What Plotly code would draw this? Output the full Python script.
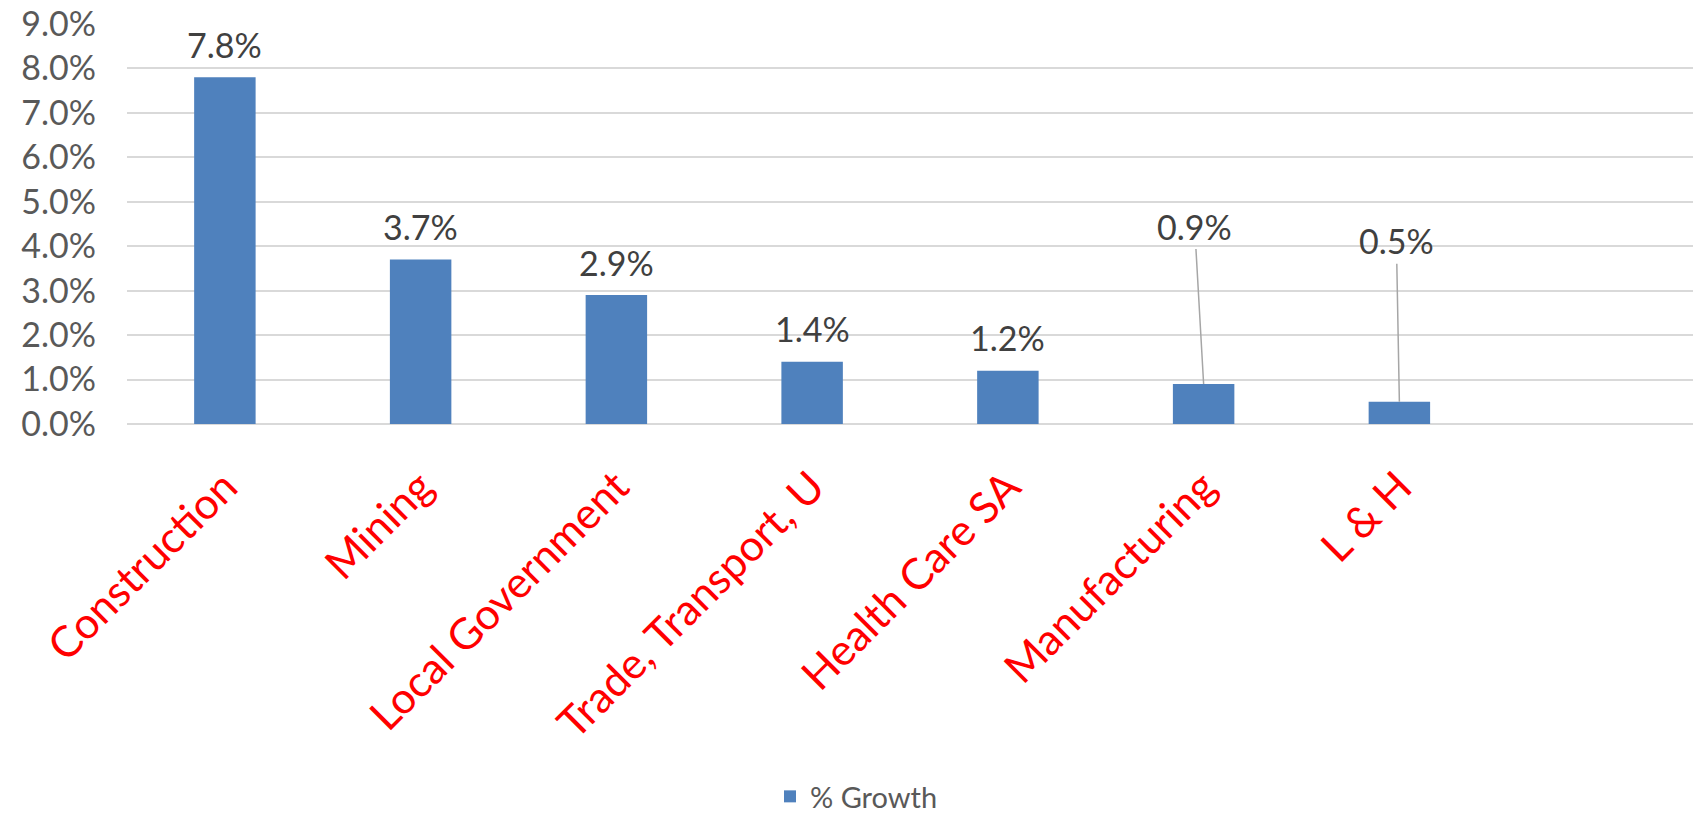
import plotly.graph_objects as go

categories = ["Construction", "Mining", "Local Government", "Trade, Transport, U",
              "Health Care SA", "Manufacturing", "L & H"]
growth = [7.8, 3.7, 2.9, 1.4, 1.2, 0.9, 0.5]
series_name = "% Growth"
y_ticks = [0, 1, 2, 3, 4, 5, 6, 7, 8, 9]
y_tick_labels = [f"{t:.1f}%" for t in y_ticks]

FONT = "Lato"
BAR_COLOR = "#4F81BD"

fig = go.Figure()
fig.add_trace(go.Bar(
    x=categories, y=growth, name=series_name,
    marker=dict(color=BAR_COLOR, line=dict(width=0)),
    showlegend=True,
))

# data labels; the two small bars use leader lines (pixel offsets)
leader_offsets = {"Manufacturing": (-9, -158), "L & H": (-3, -161)}
annotations = []
for cat, v in zip(categories, growth):
    txt = f"{v:.1f}%"
    if cat in leader_offsets:
        ax, ay = leader_offsets[cat]
        annotations.append(dict(
            x=cat, y=v, xref="x", yref="y", text=txt, showarrow=True,
            ax=ax, ay=ay, arrowhead=0, arrowwidth=1.5, arrowcolor="#A6A6A6",
            standoff=0, borderpad=2,
            font=dict(family=FONT, size=34, color="#404040"),
        ))
    else:
        annotations.append(dict(
            x=cat, y=v, xref="x", yref="y", text=txt, showarrow=False,
            yanchor="middle", yshift=33,
            font=dict(family=FONT, size=34, color="#404040"),
        ))

fig.update_layout(
    width=1696, height=822,
    margin=dict(l=127, r=3, t=24, b=398, autoexpand=False),
    paper_bgcolor="white", plot_bgcolor="white",
    bargap=0.686,
    annotations=annotations,
    font=dict(family=FONT),
    legend=dict(
        orientation="h", xref="container", x=0.505, xanchor="center",
        yref="container", y=0.0, yanchor="bottom",
        font=dict(family=FONT, size=29, color="#595959"),
        bgcolor="rgba(0,0,0,0)",
    ),
    xaxis=dict(
        type="category", categoryorder="array", categoryarray=categories,
        range=[-0.5, 7.5],
        tickangle=-45,
        tickfont=dict(family=FONT, size=43, color="#FF0000"),
        showgrid=False, showline=False, zeroline=False,
        ticks="", ticklabelstandoff=28, automargin=False,
    ),
    yaxis=dict(
        range=[0, 9], tickvals=y_ticks, ticktext=y_tick_labels,
        tickfont=dict(family=FONT, size=34, color="#595959"),
        showgrid=True, gridcolor="#D9D9D9", gridwidth=1.5,
        zeroline=True, zerolinecolor="#D9D9D9", zerolinewidth=1.5,
        showline=False, ticks="", ticklabelstandoff=30, automargin=False,
    ),
)

fig.write_html("out.html")
